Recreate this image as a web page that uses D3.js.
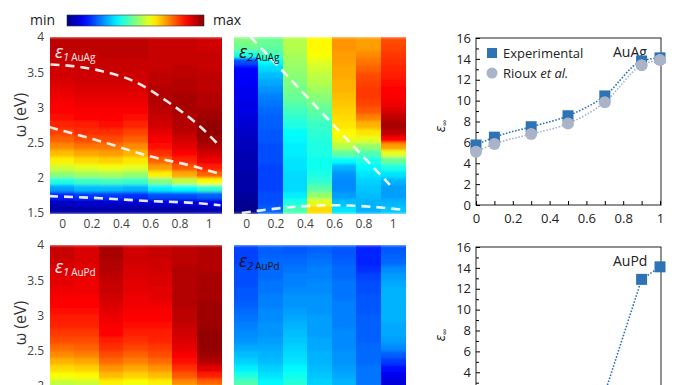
<!DOCTYPE html>
<html><head><meta charset="utf-8">
<script src="https://cdn.jsdelivr.net/npm/d3@7"></script>
<style>body{margin:0;background:#fff}svg{display:block;font-family:"Open Sans","Noto Sans",sans-serif}</style>
</head><body>
<svg id="c" width="696" height="385"></svg>
<script>
// ---------- data ----------
const compositions = ["0","0.1","0.3","0.5","0.7","0.9","1"];
const energyBins = [3.9,3.8,3.7,3.6,3.5,3.4,3.3,3.2,3.1,3.0,2.9,2.8,2.7,2.6,2.5,2.4,2.3,2.2,2.1,2.0,1.9,1.8,1.7,1.6,1.5];
const heatYTicks = [1.5,2,2.5,3,3.5,4];
const heatXTicks = [0,0.2,0.4,0.6,0.8,1];

// normalised colour index (0 = min, 1 = max), one array per composition column, top (3.9 eV) to bottom (1.5 eV)
const eps1AuAg = [
 [0.94,0.94,0.93,0.93,0.92,0.92,0.91,0.90,0.89,0.88,0.87,0.86,0.84,0.81,0.78,0.74,0.69,0.64,0.58,0.51,0.40,0.28,0.16,0.07,0.04],
 [0.94,0.94,0.93,0.93,0.93,0.92,0.92,0.91,0.90,0.89,0.88,0.87,0.85,0.83,0.80,0.76,0.71,0.66,0.60,0.53,0.43,0.31,0.18,0.08,0.04],
 [0.94,0.94,0.94,0.93,0.93,0.93,0.92,0.91,0.90,0.89,0.88,0.87,0.86,0.83,0.80,0.76,0.72,0.67,0.61,0.54,0.44,0.31,0.18,0.08,0.04],
 [0.94,0.94,0.94,0.93,0.93,0.92,0.92,0.91,0.90,0.89,0.88,0.86,0.84,0.81,0.78,0.74,0.70,0.65,0.60,0.52,0.43,0.30,0.17,0.08,0.04],
 [0.93,0.93,0.93,0.93,0.93,0.94,0.94,0.95,0.95,0.95,0.94,0.93,0.92,0.90,0.88,0.86,0.83,0.78,0.72,0.64,0.50,0.36,0.20,0.09,0.04],
 [0.93,0.93,0.93,0.93,0.94,0.94,0.95,0.95,0.96,0.96,0.96,0.95,0.95,0.94,0.92,0.90,0.87,0.84,0.79,0.71,0.56,0.38,0.20,0.09,0.04],
 [0.92,0.92,0.93,0.93,0.93,0.94,0.94,0.94,0.95,0.95,0.96,0.97,0.98,0.98,0.97,0.95,0.92,0.89,0.85,0.78,0.62,0.42,0.22,0.10,0.05]
];
const eps2AuAg = [
 [0.50,0.48,0.40,0.20,0.13,0.12,0.12,0.11,0.11,0.10,0.10,0.09,0.08,0.07,0.06,0.06,0.05,0.05,0.05,0.04,0.04,0.04,0.03,0.02,0.01],
 [0.48,0.47,0.44,0.38,0.34,0.31,0.29,0.27,0.25,0.24,0.23,0.22,0.22,0.21,0.21,0.20,0.20,0.20,0.19,0.19,0.19,0.19,0.20,0.20,0.22],
 [0.55,0.55,0.54,0.53,0.52,0.51,0.50,0.49,0.48,0.46,0.44,0.42,0.40,0.38,0.37,0.36,0.36,0.35,0.35,0.34,0.34,0.34,0.36,0.40,0.45],
 [0.63,0.63,0.62,0.60,0.58,0.56,0.55,0.53,0.51,0.49,0.47,0.45,0.43,0.42,0.41,0.40,0.40,0.39,0.39,0.40,0.42,0.46,0.52,0.60,0.66],
 [0.73,0.73,0.72,0.72,0.71,0.71,0.70,0.70,0.69,0.68,0.67,0.66,0.65,0.63,0.60,0.55,0.47,0.38,0.30,0.27,0.26,0.26,0.28,0.31,0.35],
 [0.72,0.72,0.74,0.76,0.78,0.80,0.81,0.82,0.82,0.81,0.79,0.75,0.70,0.65,0.60,0.52,0.45,0.40,0.37,0.35,0.33,0.32,0.31,0.30,0.30],
 [0.80,0.81,0.82,0.83,0.84,0.85,0.86,0.87,0.88,0.89,0.91,0.94,0.96,0.94,0.87,0.72,0.60,0.48,0.40,0.35,0.30,0.28,0.28,0.30,0.32]
];
const eps1AuPd = [
 [0.93,0.93,0.92,0.91,0.90,0.90,0.89,0.88,0.87,0.86,0.85,0.84,0.82,0.80,0.77,0.74,0.70,0.66,0.62,0.57,0.50,0.42,0.35,0.28,0.22],
 [0.91,0.91,0.91,0.90,0.90,0.89,0.89,0.88,0.87,0.86,0.85,0.84,0.82,0.80,0.78,0.75,0.71,0.67,0.63,0.58,0.51,0.43,0.36,0.29,0.23],
 [0.96,0.96,0.95,0.95,0.94,0.93,0.93,0.92,0.91,0.90,0.89,0.88,0.87,0.85,0.83,0.80,0.77,0.73,0.69,0.64,0.57,0.49,0.41,0.34,0.27],
 [0.92,0.92,0.92,0.91,0.91,0.90,0.90,0.89,0.89,0.88,0.87,0.86,0.85,0.83,0.81,0.78,0.75,0.71,0.67,0.62,0.55,0.47,0.39,0.32,0.26],
 [0.93,0.93,0.92,0.92,0.91,0.91,0.90,0.90,0.89,0.88,0.87,0.86,0.85,0.84,0.82,0.80,0.77,0.73,0.69,0.64,0.57,0.49,0.41,0.33,0.27],
 [0.94,0.94,0.94,0.95,0.95,0.95,0.95,0.95,0.95,0.94,0.94,0.93,0.92,0.91,0.90,0.88,0.86,0.83,0.79,0.74,0.66,0.56,0.46,0.37,0.30],
 [0.95,0.95,0.95,0.95,0.96,0.96,0.96,0.96,0.97,0.97,0.97,0.97,0.98,0.98,0.98,0.97,0.95,0.90,0.85,0.78,0.68,0.57,0.46,0.37,0.30]
];
const eps2AuPd = [
 [0.19,0.19,0.19,0.20,0.20,0.20,0.21,0.21,0.22,0.23,0.24,0.25,0.26,0.27,0.29,0.31,0.33,0.36,0.40,0.45,0.48,0.50,0.50,0.48,0.45],
 [0.22,0.22,0.23,0.23,0.23,0.24,0.24,0.25,0.25,0.26,0.26,0.27,0.27,0.28,0.29,0.30,0.31,0.33,0.35,0.37,0.39,0.40,0.40,0.39,0.38],
 [0.21,0.22,0.23,0.24,0.25,0.25,0.26,0.27,0.27,0.28,0.29,0.30,0.31,0.32,0.33,0.34,0.35,0.37,0.39,0.41,0.43,0.44,0.44,0.43,0.42],
 [0.22,0.23,0.24,0.25,0.25,0.26,0.26,0.27,0.27,0.27,0.28,0.28,0.28,0.29,0.29,0.30,0.30,0.31,0.32,0.33,0.34,0.35,0.35,0.35,0.34],
 [0.21,0.21,0.22,0.23,0.23,0.24,0.24,0.24,0.25,0.25,0.25,0.25,0.26,0.26,0.26,0.27,0.27,0.28,0.29,0.30,0.31,0.31,0.31,0.30,0.30],
 [0.16,0.16,0.16,0.17,0.19,0.20,0.20,0.21,0.21,0.21,0.22,0.22,0.22,0.22,0.23,0.23,0.23,0.24,0.24,0.24,0.25,0.25,0.25,0.25,0.25],
 [0.21,0.22,0.23,0.26,0.28,0.29,0.30,0.30,0.30,0.30,0.30,0.29,0.29,0.28,0.26,0.22,0.18,0.14,0.11,0.09,0.08,0.08,0.08,0.09,0.10]
];

// dashed guide curves (composition, energy eV)
const eps1AuAgCurveA = [[-0.08,3.61],[0.1,3.58],[0.26,3.52],[0.49,3.37],[0.72,3.08],[0.95,2.71],[1.08,2.44]];
const eps1AuAgCurveB = [[-0.09,2.72],[0.26,2.52],[0.59,2.31],[0.92,2.15],[1.08,2.05]];
const eps1AuAgCurveC = [[-0.09,1.74],[0.26,1.71],[0.59,1.67],[0.92,1.64],[1.08,1.61]];
const eps2AuAgCurveA = [[0.03,4.0],[0.98,1.9]];
const eps2AuAgCurveB = [[-0.03,1.5],[0.11,1.54],[0.42,1.6],[0.59,1.61],[0.77,1.6],[1.09,1.54]];

// epsilon infinity
const xFrac = [0,0.1,0.3,0.5,0.7,0.9,1];
const auAgExperimental = [5.75,6.5,7.5,8.55,10.45,13.8,14.1];
const auAgRioux = [5.1,5.85,6.8,7.8,9.85,13.4,13.9];
const auPdExperimental = [1.6,1.5,1.4,1.7,2.0,12.9,14.1];
const epsYTicks = [0,2,4,6,8,10,12,14,16];
const epsYMinor = [1,3,5,7,9,11,13,15];
const epsXTicks = [0,0.2,0.4,0.6,0.8,1];
const epsXMinor = [0.1,0.3,0.5,0.7,0.9];

// ---------- drawing ----------
const W = 696, H = 385;
const svg = d3.select("#c");
const clamp = v => Math.max(0, Math.min(1, v));
const jet = t => d3.rgb(255*clamp(1.5-Math.abs(4*t-3)), 255*clamp(1.5-Math.abs(4*t-2)), 255*clamp(1.5-Math.abs(4*t-1)));
const color = d3.scaleSequential(jet).domain([0,1]);

const defs = svg.append("defs");
const blur = defs.append("filter").attr("id","vblur").attr("x",0).attr("y",0).attr("width",1).attr("height",1);
blur.append("feGaussianBlur").attr("stdDeviation","0.4 1.6").attr("edgeMode","duplicate");

// colour bar
const grad = defs.append("linearGradient").attr("id","jetg");
d3.range(0,1.0001,0.05).forEach(t => grad.append("stop").attr("offset", t).attr("stop-color", color(t)));
svg.append("rect").attr("x",67).attr("y",15).attr("width",137).attr("height",11).attr("fill","url(#jetg)").attr("stroke","#333").attr("stroke-width",0.6);
svg.append("text").attr("x",30).attr("y",25).attr("font-size",14).attr("fill","#222").text("min");
svg.append("text").attr("x",213).attr("y",25).attr("font-size",14).attr("fill","#222").text("max");

function heatmap(opts){
  const g = svg.append("g");
  const band = d3.scaleBand().domain(compositions).range([opts.x0, opts.x1]);
  const x = d3.scaleLinear().domain([-1/12, 13/12]).range([opts.x0, opts.x1]);
  const y = d3.scaleLinear().domain([1.5,4]).range([opts.yTop + 176, opts.yTop]);
  const cells = g.append("g").attr("filter","url(#vblur)");
  opts.data.forEach((col, ci) => {
    cells.selectAll(null).data(col).enter().append("rect")
      .attr("x", band(compositions[ci]))
      .attr("width", band.bandwidth()+0.5)
      .attr("y", (d,i) => y(energyBins[i]+0.1))
      .attr("height", (d,i) => y(energyBins[i]) - y(energyBins[i]+0.1) + 0.5)
      .attr("fill", d => color(d))
      .attr("shape-rendering","crispEdges");
  });
  const line = d3.line().x(d => x(d[0])).y(d => y(d[1])).curve(d3.curveMonotoneX);
  (opts.curves||[]).forEach(c => g.append("path").attr("d", line(c)).attr("fill","none")
     .attr("stroke","#fff").attr("stroke-opacity",0.9).attr("stroke-width",2.6).attr("stroke-dasharray","9,6"));
  if (opts.yAxis){
    const ay = g.append("g").attr("transform",`translate(${opts.x0},0)`)
      .call(d3.axisLeft(y).tickValues(heatYTicks.filter(v => y(v) < H + 4)).tickSize(0).tickPadding(6).tickFormat(d3.format("~g")));
    ay.select(".domain").remove();
    ay.selectAll("text").attr("font-size",12).attr("fill","#444").attr("font-family","'Open Sans',sans-serif");
    g.append("text").attr("transform",`translate(${opts.x0-24},${opts.yTop+78}) rotate(-90)`)
      .attr("text-anchor","middle").attr("font-size",16).attr("fill","#333").text("ω (eV)");
  }
  if (opts.yTop + 190 < H){
    const ax = g.append("g").attr("transform",`translate(0,${opts.yTop+176})`)
      .call(d3.axisBottom(x).tickValues(heatXTicks).tickSize(0).tickPadding(6).tickFormat(d3.format("~g")));
    ax.select(".domain").remove();
    ax.selectAll("text").attr("font-size",12).attr("fill","#444").attr("font-family","'Open Sans',sans-serif");
  }
  const t = g.append("text").attr("x", opts.x0+5).attr("y", opts.labelY).attr("fill", opts.labelColor);
  t.append("tspan").attr("font-size",18).attr("font-style","italic").text("ε");
  t.append("tspan").attr("font-size",11).attr("font-style","italic").attr("dy",3).text(opts.sub);
  t.append("tspan").attr("font-size",10).attr("dx",2).text(opts.name);
}

heatmap({x0:50, x1:221, yTop:37, data:eps1AuAg, yAxis:true, curves:[eps1AuAgCurveA,eps1AuAgCurveB,eps1AuAgCurveC], labelY:58, labelColor:"#fbe9ec", sub:"1", name:"AuAg"});
heatmap({x0:234, x1:405, yTop:37, data:eps2AuAg, yAxis:false, curves:[eps2AuAgCurveA,eps2AuAgCurveB], labelY:58, labelColor:"#111", sub:"2", name:"AuAg"});
heatmap({x0:50, x1:221, yTop:245, data:eps1AuPd, yAxis:true, curves:[], labelY:273, labelColor:"#fbe9ec", sub:"1", name:"AuPd"});
heatmap({x0:234, x1:405, yTop:245, data:eps2AuPd, yAxis:false, curves:[], labelY:267, labelColor:"#111", sub:"2", name:"AuPd"});

const blue = "#2e74b5", grey = "#a9b4c8";
function epsPanel(opts){
  const g = svg.append("g");
  const x = d3.scaleLinear().domain([0,1]).range([476,660]);
  const y = d3.scaleLinear().domain([0,16]).range([opts.yTop+167, opts.yTop]);
  g.append("rect").attr("x",476).attr("y",opts.yTop).attr("width",185).attr("height",167)
    .attr("fill","none").attr("stroke","#222").attr("stroke-width",1);
  const ay = g.append("g").attr("transform","translate(476,0)")
    .call(d3.axisLeft(y).tickValues(epsYTicks.filter(v => y(v) < H - 6)).tickSizeInner(-4).tickSizeOuter(0).tickPadding(5));
  ay.select(".domain").remove();
  ay.selectAll("text").attr("font-size",13).attr("fill","#222").attr("font-family","'Open Sans',sans-serif");
  const am = g.append("g").attr("transform","translate(476,0)")
    .call(d3.axisLeft(y).tickValues(epsYMinor).tickSizeInner(-3).tickSizeOuter(0).tickFormat(""));
  am.select(".domain").remove();
  if (opts.yTop + 185 < H){
    const ax = g.append("g").attr("transform",`translate(0,${opts.yTop+167})`)
      .call(d3.axisBottom(x).tickValues(epsXTicks).tickSizeInner(-4).tickSizeOuter(0).tickPadding(9).tickFormat(d3.format("~g")));
    ax.select(".domain").remove();
    ax.selectAll("text").attr("font-size",13).attr("fill","#222").attr("font-family","'Open Sans',sans-serif");
    const axm = g.append("g").attr("transform",`translate(0,${opts.yTop+167})`)
      .call(d3.axisBottom(x).tickValues(epsXMinor).tickSizeInner(-4).tickSizeOuter(0).tickFormat(""));
    axm.select(".domain").remove();
  }
  const yl = g.append("text").attr("transform",`translate(445,${opts.yTop+88}) rotate(-90)`).attr("text-anchor","middle").attr("fill","#222");
  yl.append("tspan").attr("font-size",14).attr("font-style","italic").text("ε");
  yl.append("tspan").attr("font-size",9).attr("dy",3).text("∞");
  g.append("text").attr("x",613).attr("y",opts.yTop+19).attr("font-size",14).attr("fill","#222").text(opts.name);
  const line = d3.line().x(d => x(d[0])).y(d => y(d[1])).curve(opts.curve);
  opts.series.forEach(s => {
    const pts = xFrac.map((v,i) => [v, s.values[i]]);
    g.append("path").attr("d", line(pts)).attr("fill","none").attr("stroke", s.color)
      .attr("stroke-width",1.6).attr("stroke-dasharray","1.6,1.6");
  });
  opts.series.forEach(s => {
    const pts = xFrac.map((v,i) => [v, s.values[i]]);
    if (s.shape === "square"){
      g.selectAll(null).data(pts).enter().append("rect")
        .attr("x", d => x(d[0])-5.5).attr("y", d => y(d[1])-5.5).attr("width",11).attr("height",11).attr("fill", s.color);
    } else {
      g.selectAll(null).data(pts).enter().append("circle")
        .attr("cx", d => x(d[0])).attr("cy", d => y(d[1])).attr("r",6).attr("fill", s.color);
    }
  });
  if (opts.legend){
    g.append("rect").attr("x",487).attr("y",opts.yTop+10).attr("width",10).attr("height",10).attr("fill",blue);
    g.append("text").attr("x",503).attr("y",opts.yTop+20).attr("font-size",13).attr("fill","#222").text("Experimental");
    g.append("circle").attr("cx",492).attr("cy",opts.yTop+35).attr("r",5.5).attr("fill",grey);
    const r = g.append("text").attr("x",503).attr("y",opts.yTop+40).attr("font-size",13).attr("fill","#222");
    r.append("tspan").text("Rioux ");
    r.append("tspan").attr("font-style","italic").text("et al.");
  }
}
epsPanel({yTop:38, name:"AuAg", legend:true, curve:d3.curveMonotoneX,
  series:[{values:auAgExperimental, color:blue, shape:"square"},{values:auAgRioux, color:grey, shape:"circle"}]});
epsPanel({yTop:247, name:"AuPd", legend:false, curve:d3.curveLinear,
  series:[{values:auPdExperimental, color:blue, shape:"square"}]});
</script>
</body></html>
